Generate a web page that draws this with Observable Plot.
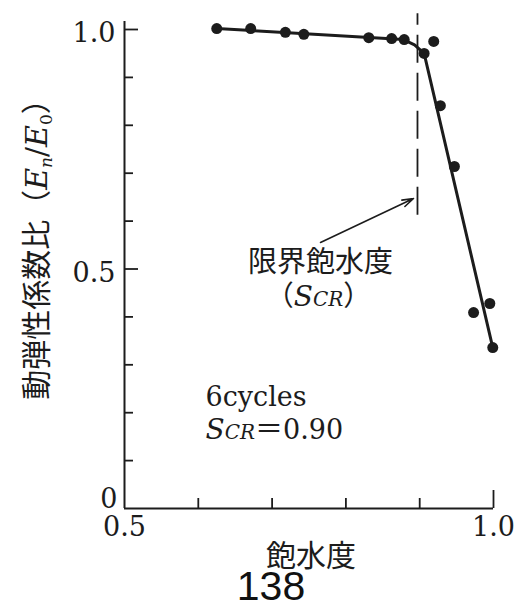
<!DOCTYPE html>
<html>
<head>
<meta charset="utf-8">
<script src="https://cdn.jsdelivr.net/npm/d3@7"></script>
<script src="https://cdn.jsdelivr.net/npm/@observablehq/plot@0.6"></script>
<style>
  html, body { margin: 0; padding: 0; background: #fff; }
</style>
</head>
<body>
<div id="chart"></div>
<script>
// ---- data ----
const satX   = [0.625, 0.671, 0.718, 0.743, 0.831, 0.862, 0.879, 0.906, 0.919, 0.928, 0.947, 0.973, 0.995, 0.999];
const ratioY = [1.002, 1.002, 0.994, 0.990, 0.983, 0.981, 0.979, 0.950, 0.975, 0.841, 0.714, 0.409, 0.428, 0.336];
const fitX   = [0.625, 0.878, 0.893, 0.906, 0.999];
const fitY   = [1.002, 0.979, 0.968, 0.950, 0.336];
const scrX   = 0.897;            // critical saturation (dashed line)
const scrRange = [0.612, 1.033]; // dashed line extent
const xTickLabelValues = [0.5, 1.0];
const xTickLabels = ["0.5", "1.0"];
const xMinorTicks = [0.6, 0.7, 0.8, 0.9];
const xMajorTicks = [1.0];
const yTickLabelValues = [0.5, 1.0];
const yTickLabels = ["0.5", "1.0"];
const yZeroLabel = ["0"];
const yMinorTicks = [0.1, 0.2, 0.3, 0.4, 0.6, 0.7, 0.8, 0.9];
const yMajorTicks = [0.5, 1.0];
const xTitle = "飽水度";
const yTitle = "動弾性係数比（En/E0）";
const annoTitle = "限界飽水度";
const annoSub = "(SCR)";
const noteLine1 = "6cycles";
const noteLine2 = "SCR=0.90";
const pageNo = "138";

// ---- layout ----
const W = 516, H = 606;
const mL = 124, mR = 23, mT = 29, mB = 98;
const xPerPx = (1.0 - 0.5) / (W - mL - mR);
const yPerPx = 1.0 / (H - mT - mB);
const ink = "#1c1c1c";
const serif = "DejaVu Serif";
const cjk = "Noto Sans CJK JP";

const points = satX.map((x, i) => ({x, y: ratioY[i]}));
const fit = fitX.map((x, i) => ({x, y: fitY[i]}));

const svg = Plot.plot({
  width: W, height: H,
  marginLeft: mL, marginRight: mR, marginTop: mT, marginBottom: mB,
  style: {background: "white", color: ink},
  x: {domain: [0.5, 1.0], axis: null},
  y: {domain: [0, 1.0], axis: null},
  marks: [
    // axes lines
    Plot.ruleX([0.5], {x: d => d, y1: () => 0, y2: () => 1.0 + 8 * yPerPx, stroke: ink, strokeWidth: 2}),
    Plot.ruleY([0], {y: d => d, x1: () => 0.5, x2: () => 1.0, stroke: ink, strokeWidth: 2}),
    // inward ticks
    Plot.ruleX(xMinorTicks, {x: d => d, y1: () => 0, y2: () => 10 * yPerPx, stroke: ink, strokeWidth: 1.8}),
    Plot.ruleX(xMajorTicks, {x: d => d, y1: () => 0, y2: () => 18 * yPerPx, stroke: ink, strokeWidth: 1.8}),
    Plot.ruleY(yMinorTicks, {y: d => d, x1: () => 0.5, x2: () => 0.5 + 9 * xPerPx, stroke: ink, strokeWidth: 1.8}),
    Plot.ruleY(yMajorTicks, {y: d => d, x1: () => 0.5, x2: () => 0.5 + 14 * xPerPx, stroke: ink, strokeWidth: 1.8}),
    // tick labels
    Plot.text(xTickLabelValues, {x: d => d, y: () => 0, text: (d, i) => xTickLabels[i], dy: 19,
      textAnchor: "middle", lineAnchor: "middle", fontFamily: serif, fontSize: 27, fill: ink}),
    Plot.text(yTickLabelValues, {x: () => 0.5, y: d => d, text: (d, i) => yTickLabels[i], dx: -9, dy: 4,
      textAnchor: "end", lineAnchor: "middle", fontFamily: serif, fontSize: 27, fill: ink}),
    Plot.text(yZeroLabel, {x: () => 0.5, y: () => 0, text: d => d, dx: -7, dy: -9,
      textAnchor: "end", lineAnchor: "middle", fontFamily: serif, fontSize: 27, fill: ink}),
    // axis titles
    Plot.text([xTitle], {frameAnchor: "bottom", text: d => d, dx: 2, dy: 48, lineAnchor: "middle",
      fontFamily: cjk, fontSize: 30, fill: ink}),
    Plot.text([yTitle], {frameAnchor: "left", text: d => d, rotate: -90, dx: -87, dy: -27,
      textAnchor: "middle", lineAnchor: "middle", fontFamily: cjk, fontSize: 30, fill: ink}),
    // critical saturation dashed line + annotation
    Plot.ruleX([scrX], {x: d => d, y1: () => scrRange[0], y2: () => scrRange[1], stroke: ink,
      strokeWidth: 1.8, strokeDasharray: "28,10"}),
    Plot.arrow([{x1: 0.7656, y1: 0.5553, x2: 0.8916, y2: 0.6472}], {x1: "x1", y1: "y1", x2: "x2", y2: "y2",
      stroke: ink, strokeWidth: 1.6, headLength: 11, headAngle: 35}),
    Plot.text([annoTitle], {x: () => 0.7656, y: () => 0.5136, text: d => d, lineAnchor: "middle",
      fontFamily: cjk, fontSize: 29, fill: ink}),
    Plot.text([annoSub], {x: () => 0.7629, y: () => 0.4406, text: d => d, lineAnchor: "middle",
      fontFamily: cjk, fontSize: 28, fill: ink}),
    Plot.text([noteLine1], {x: () => 0.6098, y: () => 0.213, text: d => d, textAnchor: "start", lineAnchor: "bottom",
      fontFamily: serif, fontSize: 27, fill: ink}),
    Plot.text([noteLine2], {x: () => 0.6098, y: () => 0.146, text: d => d, textAnchor: "start", lineAnchor: "bottom",
      fontFamily: serif, fontSize: 27, fill: ink}),
    // data
    Plot.line(fit, {x: "x", y: "y", stroke: ink, strokeWidth: 3}),
    Plot.dot(points, {x: "x", y: "y", r: 5.5, fill: ink, stroke: "none"}),
    // page number
    Plot.text([pageNo], {frameAnchor: "bottom", text: d => d, dx: -38, dy: 91, lineAnchor: "bottom",
      fontFamily: "Liberation Sans", fontSize: 41, fill: "#111"})
  ]
});

// ---- rich text (italic symbols, subscripts) ----
const rich = {
  [yTitle]: [
    {t: "動弾性係数比（"},
    {t: "E", f: serif, i: true},
    {t: "n", f: serif, i: true, s: 17, shift: 5},
    {t: "/", f: serif, shift: 0},
    {t: "E", f: serif, i: true},
    {t: "0", f: serif, s: 17, shift: 5},
    {t: "）", shift: 0}
  ],
  [annoSub]: [
    {t: "（"},
    {t: "S", f: serif, i: true, s: 28},
    {t: "CR", f: serif, i: true, s: 20},
    {t: "）"}
  ],
  [noteLine2]: [
    {t: "S", f: serif, i: true, s: 28},
    {t: "CR", f: serif, i: true, s: 20},
    {t: "＝", f: cjk, s: 28},
    {t: "0.90", f: serif}
  ]
};
d3.select(svg).selectAll("text").each(function() {
  const parts = rich[this.textContent];
  if (!parts) return;
  this.textContent = "";
  let cur = 0;
  for (const p of parts) {
    const ts = document.createElementNS("http://www.w3.org/2000/svg", "tspan");
    ts.textContent = p.t;
    if (p.f) ts.setAttribute("font-family", p.f);
    if (p.i) ts.setAttribute("font-style", "italic");
    if (p.s) ts.setAttribute("font-size", p.s);
    const target = p.shift || 0;
    if (target !== cur) { ts.setAttribute("dy", (target - cur) + "px"); cur = target; }
    this.appendChild(ts);
  }
});

document.getElementById("chart").appendChild(svg);
</script>
</body>
</html>
